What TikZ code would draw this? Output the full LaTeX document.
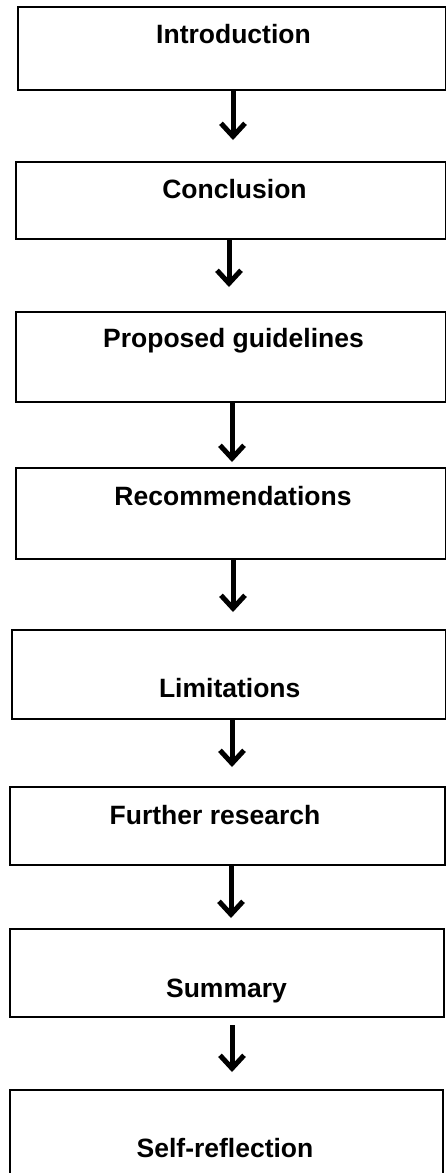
\documentclass[tikz,border=0pt]{standalone}
\usepackage{fontspec}
\setmainfont{Liberation Sans}
\usetikzlibrary{arrows.meta,fit}
\begin{document}
\begin{tikzpicture}[x=1pt,y=-1pt,
  box/.style={draw, line width=2pt, rectangle, inner sep=0pt, outer sep=0pt},
  lbl/.style={font=\fontsize{26.5}{30}\selectfont\bfseries, anchor=base, inner sep=0pt},
  arr/.style={line width=5pt, -{Straight Barb[length=13pt,width=24pt,line width=5pt]}, shorten <=1pt}]
\useasboundingbox (0,0) rectangle (446,1173);
% boxes
\node[box, fit={(17.5,7) (445.5,90)}] (b1) {};
\node[box, fit={(15.5,162) (445.5,239)}] (b2) {};
\node[box, fit={(15.5,312) (445.5,402)}] (b3) {};
\node[box, fit={(15.5,468) (445.5,559)}] (b4) {};
\node[box, fit={(11.5,630) (445.5,719)}] (b5) {};
\node[box, fit={(10,787) (445,865)}] (b6) {};
\node[box, fit={(9.5,929) (444,1017)}] (b7) {};
\node[box, fit={(9.5,1090) (443,1176)}] (b8) {};
% labels
\node[lbl] (t1) at (233.5,43) {Introduction};
\node[lbl] (t2) at (234.5,198) {Conclusion};
\node[lbl] (t3) at (233.5,347) {Proposed guidelines};
\node[lbl] (t4) at (233,505) {Recommendations};
\node[lbl] (t5) at (229.7,697) {Limitations};
\node[lbl] (t6) at (215,824) {Further research};
\node[lbl] (t7) at (226.5,997) {Summary};
\node[lbl] (t8) at (225,1157) {Self-reflection};
% arrow axes
\coordinate (x1) at (233,0);
\coordinate (x2) at (229,0);
\coordinate (x3) at (232,0);
\coordinate (x4) at (233,0);
\coordinate (x5) at (232,0);
\coordinate (x6) at (231,0);
\coordinate (x7) at (232,0);
% arrows
\draw[arr, shorten >=22pt] (b1.south -| x1) -- (b2.north -| x1);
\draw[arr, shorten >=25pt] (b2.south -| x2) -- (b3.north -| x2);
\draw[arr, shorten >=6pt] (b3.south -| x3) -- (b4.north -| x3);
\draw[arr, shorten >=18pt] (b4.south -| x4) -- (b5.north -| x4);
\draw[arr, shorten >=20pt] (b5.south -| x5) -- (b6.north -| x5);
\draw[arr, shorten >=11pt] (b6.south -| x6) -- (b7.north -| x6);
\draw[arr, shorten >=18pt, shorten <=8pt] (b7.south -| x7) -- (b8.north -| x7);
\end{tikzpicture}
\end{document}
